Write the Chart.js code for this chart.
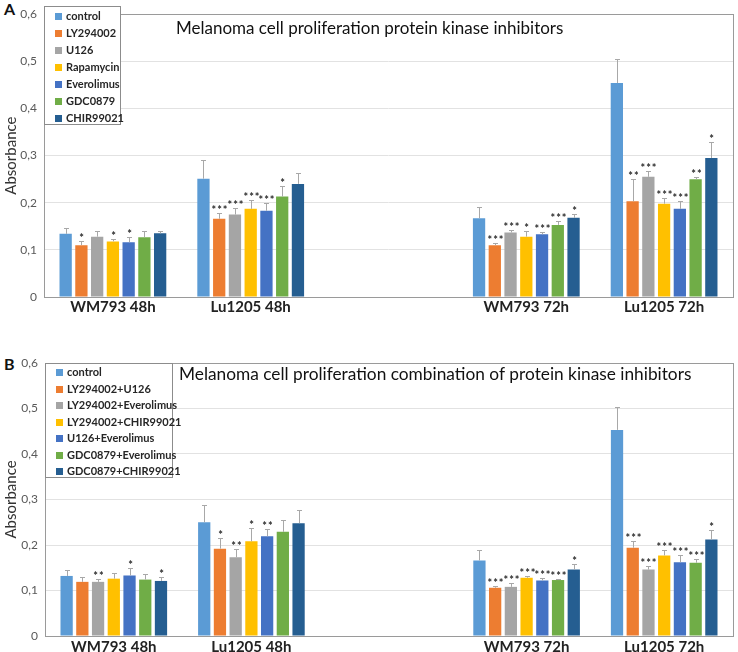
<!DOCTYPE html>
<html>
<head>
<meta charset="utf-8">
<script src="https://cdn.jsdelivr.net/npm/chart.js@4.4.1/dist/chart.umd.min.js"></script>
<style>
  html, body { margin: 0; padding: 0; background: #fff; }
  body { width: 738px; height: 652px; position: relative; overflow: hidden; font-family: Lato, sans-serif; }
  .panel { position: absolute; left: 0; width: 738px; }
  .letter { position: absolute; font: bold 16px Lato, sans-serif; color: #111; }
  .legend { position: absolute; background: #fff; border: 1px solid #8c8c8c; box-sizing: border-box; font: bold 11px Lato, sans-serif; color: #262626; }
  .legend div { position: absolute; left: 0; white-space: nowrap; line-height: 12px; }
  .legend span { display: inline-block; width: 7px; height: 7px; margin: 0 4px 1px 10px; vertical-align: middle; }
</style>
</head>
<body>
<div class="letter" style="left:4px;top:-1px">A</div>
<div class="panel" style="top:0;height:318px"><canvas id="chartA"></canvas></div>
<div class="legend" id="legendA" style="left:44px;top:6px;width:77px;height:119px"></div>

<div class="letter" style="left:4px;top:354px">B</div>
<div class="panel" style="top:330px;height:322px"><canvas id="chartB"></canvas></div>
<div class="legend" id="legendB" style="left:45px;top:363px;width:128px;height:115px"></div>

<script>
// Catégories (la 3e est vide : espace entre 48h et 72h)
const categories = ["WM793 48h", "Lu1205 48h", "", "WM793 72h", "Lu1205 72h"]
const yTicks = [0, 0.1, 0.2, 0.3, 0.4, 0.5, 0.6]
const colors = ["#5B9BD5", "#ED7D31", "#A5A5A5", "#FFC000", "#4472C4", "#70AD47", "#255E91"]

// Panneau A : inhibiteurs seuls
const seriesA = ["control", "LY294002", "U126", "Rapamycin", "Everolimus", "GDC0879", "CHIR99021"]
const valuesA = [
  [0.134, 0.251, null, 0.167, 0.454],
  [0.110, 0.166, null, 0.110, 0.203],
  [0.128, 0.175, null, 0.137, 0.255],
  [0.118, 0.187, null, 0.128, 0.198],
  [0.116, 0.183, null, 0.133, 0.187],
  [0.127, 0.213, null, 0.153, 0.250],
  [0.135, 0.240, null, 0.168, 0.295],
]
const errorsA = [
  [0.013, 0.039, null, 0.023, 0.052],
  [0.008, 0.013, null, 0.005, 0.047],
  [0.011, 0.013, null, 0.006, 0.013],
  [0.006, 0.018, null, 0.012, 0.012],
  [0.012, 0.017, null, 0.005, 0.016],
  [0.012, 0.023, null, 0.008, 0.004],
  [0.005, 0.023, null, 0.009, 0.033],
]
const starsA = [
  ["", "", "", "", ""],
  ["*", "***", "", "***", "**"],
  ["", "***", "", "***", "***"],
  ["*", "***", "", "*", "***"],
  ["*", "***", "", "***", "***"],
  ["", "*", "", "***", "**"],
  ["", "", "", "*", "*"],
]

// Panneau B : combinaisons
const seriesB = ["control", "LY294002+U126", "LY294002+Everolimus", "LY294002+CHIR99021", "U126+Everolimus", "GDC0879+Everolimus", "GDC0879+CHIR99021"]
const valuesB = [
  [0.132, 0.250, null, 0.166, 0.453],
  [0.119, 0.192, null, 0.106, 0.194],
  [0.119, 0.173, null, 0.108, 0.146],
  [0.126, 0.208, null, 0.128, 0.177],
  [0.133, 0.219, null, 0.122, 0.162],
  [0.124, 0.229, null, 0.123, 0.161],
  [0.121, 0.248, null, 0.146, 0.212],
]
const errorsB = [
  [0.014, 0.037, null, 0.022, 0.051],
  [0.011, 0.023, null, 0.004, 0.014],
  [0.007, 0.018, null, 0.008, 0.007],
  [0.013, 0.029, null, 0.003, 0.013],
  [0.017, 0.016, null, 0.005, 0.015],
  [0.013, 0.026, null, 0.003, 0.009],
  [0.008, 0.029, null, 0.012, 0.022],
]
const starsB = [
  ["", "", "", "", ""],
  ["", "*", "", "***", "***"],
  ["**", "**", "", "***", "***"],
  ["", "*", "", "***", "***"],
  ["*", "**", "", "***", "***"],
  ["", "", "", "***", "***"],
  ["*", "", "", "*", "*"],
]

const FONT = "Lato, sans-serif"

// Barres d'erreur (haut seulement) et étoiles de significativité
const errorBarPlugin = {
  id: "errorBars",
  afterDatasetsDraw(chart) {
    const ctx = chart.ctx
    const yScale = chart.scales.y
    ctx.save()
    chart.data.datasets.forEach((ds, i) => {
      const meta = chart.getDatasetMeta(i)
      meta.data.forEach((bar, j) => {
        const v = ds.data[j]
        if (v == null) return
        const x = Math.round(bar.x) + 0.5
        const top = Math.round(yScale.getPixelForValue(v + ds.errors[j])) + 0.5
        ctx.strokeStyle = "#a8a8a8"
        ctx.lineWidth = 1
        ctx.beginPath()
        ctx.moveTo(x, bar.y)
        ctx.lineTo(x, top)
        ctx.moveTo(x - 2.5, top)
        ctx.lineTo(x + 2.5, top)
        ctx.stroke()
        if (ds.stars[j]) {
          ctx.fillStyle = "#2a2a2a"
          ctx.font = "bold 11px " + FONT
          ctx.letterSpacing = "1px"
          ctx.textAlign = "center"
          ctx.textBaseline = "alphabetic"
          ctx.fillText(ds.stars[j], x + 0.5, top + 0.5)
        }
      })
    })
    ctx.restore()
  },
}

// Cadre gris autour de la zone de tracé + titre à l'intérieur
const framePlugin = {
  id: "frame",
  beforeDatasetsDraw(chart) {
    const a = chart.chartArea
    const ctx = chart.ctx
    ctx.save()
    ctx.strokeStyle = "#9a9a9a"
    ctx.lineWidth = 1
    ctx.strokeRect(Math.round(a.left) + 0.5, Math.round(a.top) + 0.5, Math.round(a.right - a.left), Math.round(a.bottom - a.top))
    ctx.restore()
  },
  afterDraw(chart, args, opts) {
    const ctx = chart.ctx
    ctx.save()
    ctx.fillStyle = "#111"
    ctx.font = opts.size + "px " + FONT
    ctx.textAlign = "left"
    ctx.textBaseline = "middle"
    ctx.fillText(opts.text, opts.x, chart.chartArea.top + opts.dy)
    ctx.restore()
  },
}

function buildLegend(id, names, rowTop, rowStep) {
  const box = document.getElementById(id)
  names.forEach((name, i) => {
    const row = document.createElement("div")
    row.style.top = (rowTop + i * rowStep - 6) + "px"
    row.innerHTML = `<span style="background:${colors[i]}"></span>${name}`
    box.appendChild(row)
  })
}

function makeChart(canvasId, names, values, errors, stars, cfg) {
  const datasets = names.map((name, i) => ({
    label: name,
    data: values[i],
    errors: errors[i],
    stars: stars[i],
    backgroundColor: colors[i],
    borderWidth: 0,
    categoryPercentage: 0.8,
    barPercentage: 0.78,
  }))

  return new Chart(document.getElementById(canvasId), {
    type: "bar",
    data: { labels: categories, datasets },
    plugins: [framePlugin, errorBarPlugin],
    options: {
      responsive: true,
      maintainAspectRatio: false,
      animation: false,
      layout: { padding: { top: cfg.padTop, right: 5, left: 0, bottom: 0 } },
      plugins: {
        legend: { display: false },
        tooltip: { enabled: false },
        frame: { text: cfg.title, x: cfg.titleX, dy: cfg.titleDy, size: cfg.titleSize },
      },
      scales: {
        x: {
          grid: { display: false, drawTicks: false },
          border: { display: false },
          ticks: { color: "#222", padding: cfg.xPad, font: { family: FONT, size: 15, weight: "bold" } },
          afterFit: (s) => { s.height = cfg.xHeight },
        },
        y: {
          min: 0,
          max: 0.6,
          afterBuildTicks: (s) => { s.ticks = yTicks.map((v) => ({ value: v })) },
          grid: { color: "#e2e2e2", drawTicks: false },
          border: { display: false },
          ticks: {
            color: "#595959",
            padding: 7,
            font: { family: FONT, size: 12 },
            callback: (v) => (v === 0 ? "0" : v.toFixed(1).replace(".", ",")),
          },
          title: { display: true, text: "Absorbance", color: "#333", padding: { top: 2, bottom: 0 }, font: { family: FONT, size: 15 } },
          afterFit: (s) => { s.width = cfg.yWidth },
        },
      },
    },
  })
}

makeChart("chartA", seriesA, valuesA, errorsA, starsA, {
  padTop: 6, yWidth: 44, xHeight: 21, xPad: 1,
  title: "Melanoma cell proliferation protein kinase inhibitors", titleX: 176, titleDy: 14, titleSize: 17,
})
makeChart("chartB", seriesB, valuesB, errorsB, starsB, {
  padTop: 33, yWidth: 45, xHeight: 16, xPad: 2,
  title: "Melanoma cell proliferation combination of protein kinase inhibitors", titleX: 179, titleDy: 11, titleSize: 17.3,
})

buildLegend("legendA", seriesA, 8.7, 17)
buildLegend("legendB", seriesB, 8, 16.5)
</script>
</body>
</html>
